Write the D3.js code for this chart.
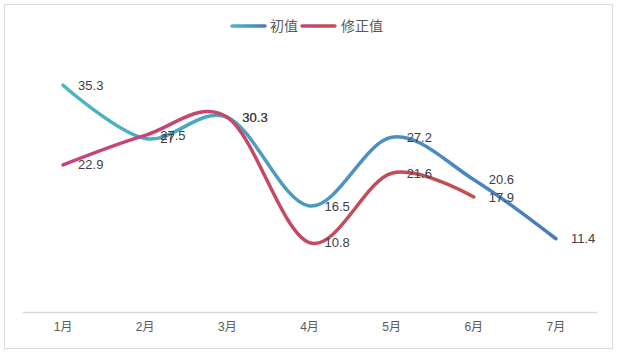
<!DOCTYPE html>
<html><head><meta charset="utf-8">
<script src="https://cdn.jsdelivr.net/npm/d3@7"></script>
<style>body{margin:0;background:#fff}svg{display:block}</style>
</head><body>
<svg id="c" width="617" height="353"></svg>
<script>
const categories = ["1月","2月","3月","4月","5月","6月","7月"];
const initialValues = [35.3, 27, 30.3, 16.5, 27.2, 20.6, 11.4];
const revisedValues = [22.9, 27.5, 30.3, 10.8, 21.6, 17.9];
const seriesNames = ["初值","修正值"];

const svg = d3.select("#c");
const W = 617, H = 353;
svg.append("rect").attr("x",4.5).attr("y",4.5).attr("width",608).attr("height",344)
  .attr("fill","#fff").attr("stroke","#d9d9d9").attr("stroke-width",1);

const x = d3.scaleBand().domain(categories).range([22, 597]);
const y = d3.scaleLinear().domain([0, 40]).range([312, 55]);
const cx = c => x(c) + x.bandwidth()/2;

// axis
const xAxis = d3.axisBottom(x).tickSize(0).tickPadding(10);
const ga = svg.append("g").attr("transform","translate(0,312)").call(xAxis);
ga.select(".domain").attr("stroke","#d9d9d9").attr("stroke-width",1.5);
ga.selectAll("text").attr("fill","#595959").style("font-family","'Liberation Sans','Noto Sans CJK SC',sans-serif").style("font-size","12px");

const defs = svg.append("defs");
function grad(id, c1, c2, x1, x2){
  const g = defs.append("linearGradient").attr("id",id).attr("gradientUnits","userSpaceOnUse")
    .attr("x1",x1).attr("y1",0).attr("x2",x2).attr("y2",0);
  g.append("stop").attr("offset","0%").attr("stop-color",c1);
  g.append("stop").attr("offset","100%").attr("stop-color",c2);
}
grad("gInit","#4bb6c2","#4a7bbf", cx(categories[0]), cx(categories[initialValues.length-1]));
grad("gRev","#c8417f","#c0504d", cx(categories[0]), cx(categories[revisedValues.length-1]));
grad("lgInit","#4bb6c2","#4a7bbf", 232, 265);
grad("lgRev","#c8417f","#c0504d", 302, 335);

const line = d3.line().x((d,i)=>cx(categories[i])).y(d=>y(d)).curve(d3.curveCardinal.tension(0));

svg.append("path").datum(initialValues).attr("d",line).attr("fill","none")
  .attr("stroke","url(#gInit)").attr("stroke-width",3.5).attr("stroke-linecap","round");
svg.append("path").datum(revisedValues).attr("d",line).attr("fill","none")
  .attr("stroke","url(#gRev)").attr("stroke-width",3.5).attr("stroke-linecap","round");

const lblFont = "'Liberation Sans','Noto Sans',sans-serif";
function labels(vals){
  svg.append("g").selectAll("text").data(vals).join("text")
    .attr("x",(d,i)=>cx(categories[i])+15).attr("y",d=>y(d)).attr("dy","0.35em")
    .attr("fill","#404040").style("font-family",lblFont).style("font-size","13px")
    .text(d=>d);
}
labels(initialValues);
labels(revisedValues);

// legend
const lf = "'Noto Sans CJK SC',sans-serif";
svg.append("line").attr("x1",232).attr("x2",265).attr("y1",26).attr("y2",26)
  .attr("stroke","url(#lgInit)").attr("stroke-width",3.5).attr("stroke-linecap","round");
svg.append("text").attr("x",270).attr("y",26).attr("dy","0.35em").attr("fill","#595959")
  .style("font-family",lf).style("font-size","14px").text(seriesNames[0]);
svg.append("line").attr("x1",302).attr("x2",335).attr("y1",26).attr("y2",26)
  .attr("stroke","url(#lgRev)").attr("stroke-width",3.5).attr("stroke-linecap","round");
svg.append("text").attr("x",341).attr("y",26).attr("dy","0.35em").attr("fill","#595959")
  .style("font-family",lf).style("font-size","14px").text(seriesNames[1]);
</script>
</body></html>
